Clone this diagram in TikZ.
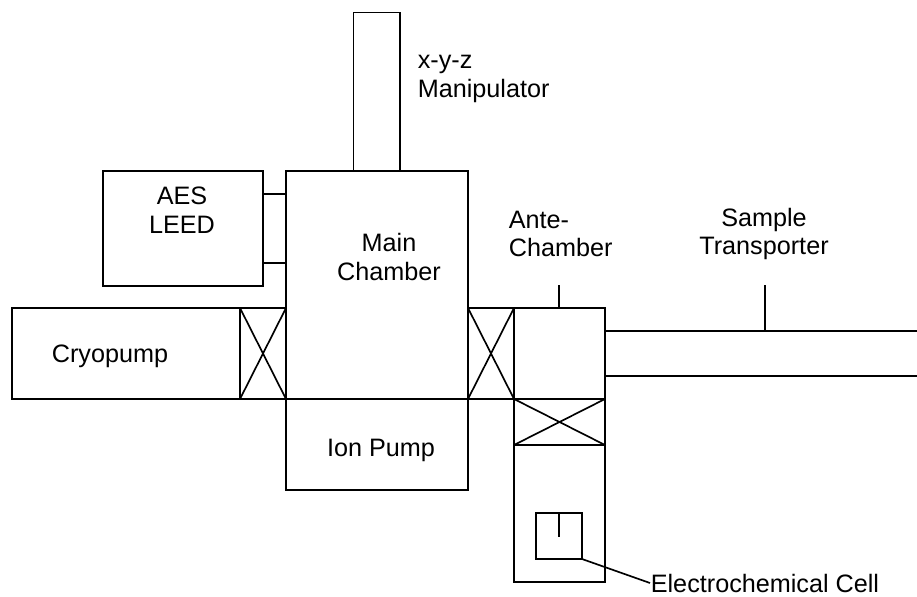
\documentclass[tikz,border=0pt]{standalone}
\usepackage{fontspec}
\setmainfont{Liberation Sans}
\usetikzlibrary{calc}

\begin{document}
\begin{tikzpicture}[x=0.75pt, y=-0.75pt, line width=1.25pt,
    % Define the style for the labels
    lbl/.style={font=\fontsize{18.9}{21.5}\selectfont, align=center, inner sep=0pt}
]
\useasboundingbox (0,0) rectangle (917,596);

% Define the corners of the chambers
\coordinate (ManipA) at (353.5,12.5);
\coordinate (ManipB) at (400,171);
\coordinate (MainA) at (286,171);
\coordinate (MainB) at (468,399);
\coordinate (AesA) at (103,171);
\coordinate (AesB) at (263,286);
\coordinate (CryoA) at (12,308);
\coordinate (CryoB) at (240,399);
\coordinate (IonB) at (468,490);
\coordinate (AnteA) at (514,308);
\coordinate (AnteB) at (605,399);
\coordinate (LoadB) at (605,582);
\coordinate (CellA) at (536,513);
\coordinate (CellB) at (582,559);

% Draw the chambers
\draw (ManipA) rectangle (ManipB);
\draw (MainA) rectangle (MainB);
\draw (AesA) rectangle (AesB);
\draw (CryoA) rectangle (CryoB);
\draw (MainA |- MainB) rectangle (IonB);
\draw (AnteA) rectangle (AnteB);
\draw (AnteA |- AnteB) rectangle (LoadB);
\draw (CellA) rectangle (CellB);

% Draw the valves
\draw (240,308) rectangle (286,399);
\draw (240,308) -- (286,399);
\draw (240,399) -- (286,308);
\draw (468,308) rectangle (514,399);
\draw (468,308) -- (514,399);
\draw (468,399) -- (514,308);
\draw (514,445) -- (605,445);
\draw (514,399) -- (605,445);
\draw (514,445) -- (605,399);

% Draw the ports and the transporter
\draw (263,194) -- (286,194);
\draw (263,263) -- (286,263);
\draw (559,285) -- (559,308);
\draw (605,331) -- (917,331);
\draw (605,376) -- (917,376);
\draw (765,285) -- (765,331);
\draw (559,513) -- (559,537);

% Add the labels
\node[lbl, anchor=west, align=left] (xyz) at (417,79) {x-y-z\\Manipulator};
\node[lbl] (aes) at (182,210) {AES\\LEED};
\node[lbl] (main) at (389,257) {Main\\Chamber};
\node[lbl, anchor=west, align=left] (ante) at (508,234) {Ante-\\Chamber};
\node[lbl] (transporter) at (764,234) {Sample\\Transporter};
\node[lbl] (cryo) at (110,356) {Cryopump};
\node[lbl] (ion) at (381,450) {Ion Pump};
\node[lbl, anchor=west] (cell) at (650,583) {Electrochemical Cell};

% Draw the lead to the cell
\draw (CellB) -- (cell.west);
\end{tikzpicture}
\end{document}
